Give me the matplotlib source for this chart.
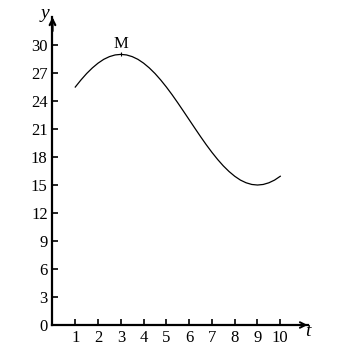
import matplotlib
matplotlib.use("Agg")
import matplotlib.pyplot as plt

# values
t_vals = [1, 1.25, 1.5, 1.75, 2, 2.25, 2.5, 2.75, 3, 3.25, 3.5, 3.75, 4, 4.25, 4.5, 4.75,
          5, 5.25, 5.5, 5.75, 6, 6.25, 6.5, 6.75, 7, 7.25, 7.5, 7.75, 8, 8.25, 8.5, 8.75,
          9, 9.25, 9.5, 9.75, 10]
y_vals = [25.50, 26.26, 26.95, 27.55, 28.06, 28.47, 28.76, 28.94, 29.00, 28.94, 28.76, 28.47,
          28.06, 27.55, 26.95, 26.26, 25.50, 24.68, 23.81, 22.91, 22.00, 21.09, 20.19, 19.32,
          18.50, 17.74, 17.05, 16.45, 15.94, 15.53, 15.24, 15.06, 15.00, 15.06, 15.24, 15.53, 15.94]
x_ticks = [1, 2, 3, 4, 5, 6, 7, 8, 9, 10]
y_ticks = [0, 3, 6, 9, 12, 15, 18, 21, 24, 27, 30]
peak_t, peak_y = 3, 29.0

plt.rcParams['font.family'] = ['Liberation Serif', 'DejaVu Serif']

fig = plt.figure(figsize=(3.49, 3.46), dpi=100)
ax = fig.add_axes([0.1504, 0.0607, 0.731, 0.890])
ax.set_xlim(0, 11.2)
ax.set_ylim(0, 33.0)

ax.plot(t_vals, y_vals, color='black', lw=0.9)
ax.plot([peak_t], [peak_y], marker='|', color='black', ms=3, mew=0.8)
ax.text(peak_t, peak_y + 0.3, 'M', ha='center', va='bottom', fontsize=12)

for side in ['top', 'right']:
    ax.spines[side].set_visible(False)
ax.spines['left'].set_linewidth(1.6)
ax.spines['bottom'].set_linewidth(1.6)

ax.set_xticks(x_ticks)
ax.set_yticks(y_ticks)
ax.tick_params(direction='in', length=4, width=1.2, labelsize=12, pad=3.5)

# arrows on the axes
ax.annotate('', xy=(11.2, 0), xytext=(10.6, 0), xycoords='data',
            arrowprops=dict(arrowstyle='->', lw=1.4, color='black',
                            mutation_scale=10, shrinkA=0, shrinkB=0),
            annotation_clip=False)
ax.annotate('', xy=(0, 33.0), xytext=(0, 31.5), xycoords='data',
            arrowprops=dict(arrowstyle='->', lw=1.6, color='black',
                            mutation_scale=10, shrinkA=0, shrinkB=0),
            annotation_clip=False)

ax.text(11.2, -0.7, 't', style='italic', fontsize=14, ha='center', va='center')
ax.text(-0.35, 33.4, 'y', style='italic', fontsize=14, ha='center', va='center')

fig.savefig('out.png', dpi=100)
